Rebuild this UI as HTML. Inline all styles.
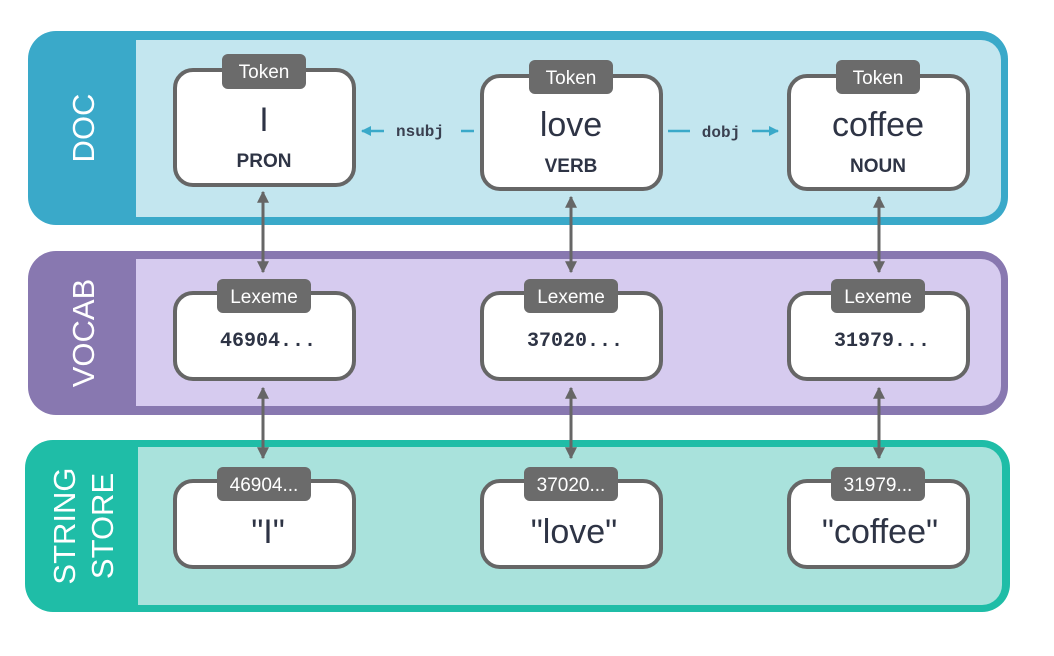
<!DOCTYPE html>
<html><head><meta charset="utf-8"><style>
html,body{margin:0;padding:0;background:#fff}
svg{display:block}
.tag{font-family:"Liberation Sans",sans-serif;font-size:19px;fill:#fff;text-anchor:middle}
.big{font-family:"Liberation Sans",sans-serif;font-size:34px;fill:#2e3445;text-anchor:middle}
.pos{font-family:"Liberation Sans",sans-serif;font-weight:bold;font-size:19px;fill:#2e3445;text-anchor:middle}
.mono{font-family:"Liberation Mono",monospace;font-weight:bold;font-size:20px;fill:#2e3445;text-anchor:middle}
.dep{font-family:"Liberation Mono",monospace;font-weight:bold;font-size:16px;fill:#3a4050;text-anchor:middle}
.side{font-family:"Liberation Sans",sans-serif;font-size:31px;fill:#fff;text-anchor:middle}
</style></head><body>
<svg width="1054" height="656" viewBox="0 0 1054 656">
<defs>
<marker id="ga" viewBox="0 0 10 10" refX="9" refY="5" markerWidth="4" markerHeight="4" orient="auto-start-reverse"><path d="M0,0L10,5L0,10z" fill="#666"/></marker>
<marker id="ba" viewBox="0 0 10 10" refX="9" refY="5" markerWidth="4" markerHeight="4" orient="auto"><path d="M0,0L10,5L0,10z" fill="#3aa9c9"/></marker>
</defs>
<!-- DOC -->
<rect x="28" y="31" width="980" height="194" rx="28" fill="#3aa9c9"/>
<rect x="136" y="40" width="865" height="177" rx="20" fill="#c3e6ef"/>
<rect x="136" y="40" width="40" height="177" fill="#c3e6ef"/>
<text class="side" transform="translate(94,128) rotate(-90)">DOC</text>
<!-- VOCAB -->
<rect x="28" y="251" width="980" height="164" rx="28" fill="#8878b0"/>
<rect x="136" y="259" width="865" height="147" rx="20" fill="#d6cbef"/>
<rect x="136" y="259" width="40" height="147" fill="#d6cbef"/>
<text class="side" transform="translate(94,333) rotate(-90)">VOCAB</text>
<!-- STRING -->
<rect x="25" y="440" width="985" height="172" rx="28" fill="#1fbda7"/>
<rect x="138" y="447" width="864" height="158" rx="20" fill="#a9e2dc"/>
<rect x="138" y="447" width="40" height="158" fill="#a9e2dc"/>
<text class="side" transform="translate(75,526) rotate(-90)">STRING</text>
<text class="side" transform="translate(113,526) rotate(-90)">STORE</text>

<g stroke="#666" stroke-width="3" fill="none">
<line x1="263" y1="192" x2="263" y2="272" marker-start="url(#ga)" marker-end="url(#ga)"/>
<line x1="571" y1="197" x2="571" y2="272" marker-start="url(#ga)" marker-end="url(#ga)"/>
<line x1="879" y1="197" x2="879" y2="272" marker-start="url(#ga)" marker-end="url(#ga)"/>
<line x1="263" y1="388" x2="263" y2="458" marker-start="url(#ga)" marker-end="url(#ga)"/>
<line x1="571" y1="388" x2="571" y2="458" marker-start="url(#ga)" marker-end="url(#ga)"/>
<line x1="879" y1="388" x2="879" y2="458" marker-start="url(#ga)" marker-end="url(#ga)"/>
</g>
<g stroke="#3aa9c9" stroke-width="2.5" fill="none">
<line x1="384" y1="131" x2="362" y2="131" marker-end="url(#ba)"/>
<line x1="461" y1="131" x2="474" y2="131"/>
<line x1="668" y1="131" x2="690" y2="131"/>
<line x1="752" y1="131" x2="778" y2="131" marker-end="url(#ba)"/>
</g>
<text class="dep" x="420" y="136">nsubj</text>
<text class="dep" x="721" y="137">dobj</text>

<g fill="#fff" stroke="#666" stroke-width="4">
<rect x="175" y="70" width="179" height="115" rx="18"/>
<rect x="482" y="76" width="179" height="113" rx="18"/>
<rect x="789" y="76" width="179" height="113" rx="18"/>
<rect x="175" y="293" width="179" height="86" rx="18"/>
<rect x="482" y="293" width="179" height="86" rx="18"/>
<rect x="789" y="293" width="179" height="86" rx="18"/>
<rect x="175" y="481" width="179" height="86" rx="18"/>
<rect x="482" y="481" width="179" height="86" rx="18"/>
<rect x="789" y="481" width="179" height="86" rx="18"/>
</g>
<g fill="#6b6b6b">
<rect x="222" y="54" width="84" height="35" rx="6"/>
<rect x="529" y="60" width="84" height="34" rx="6"/>
<rect x="836" y="60" width="84" height="34" rx="6"/>
<rect x="217" y="279" width="94" height="34" rx="6"/>
<rect x="524" y="279" width="94" height="34" rx="6"/>
<rect x="831" y="279" width="94" height="34" rx="6"/>
<rect x="217" y="467" width="94" height="34" rx="6"/>
<rect x="524" y="467" width="94" height="34" rx="6"/>
<rect x="831" y="467" width="94" height="34" rx="6"/>
</g>
<text class="tag" x="264" y="78">Token</text>
<text class="tag" x="571" y="84">Token</text>
<text class="tag" x="878" y="84">Token</text>
<text class="tag" x="264" y="303">Lexeme</text>
<text class="tag" x="571" y="303">Lexeme</text>
<text class="tag" x="878" y="303">Lexeme</text>
<text class="tag" x="264" y="491">46904...</text>
<text class="tag" x="571" y="491">37020...</text>
<text class="tag" x="878" y="491">31979...</text>

<text class="big" x="264" y="131">I</text>
<text class="pos" x="264" y="167">PRON</text>
<text class="big" x="571" y="136">love</text>
<text class="pos" x="571" y="172">VERB</text>
<text class="big" x="878" y="136">coffee</text>
<text class="pos" x="878" y="172">NOUN</text>

<text class="mono" x="268" y="346">46904...</text>
<text class="mono" x="575" y="346">37020...</text>
<text class="mono" x="882" y="346">31979...</text>

<text class="big" x="268" y="543">"I"</text>
<text class="big" x="574" y="543">"love"</text>
<text class="big" x="880" y="543">"coffee"</text>
</svg>
</body></html>
